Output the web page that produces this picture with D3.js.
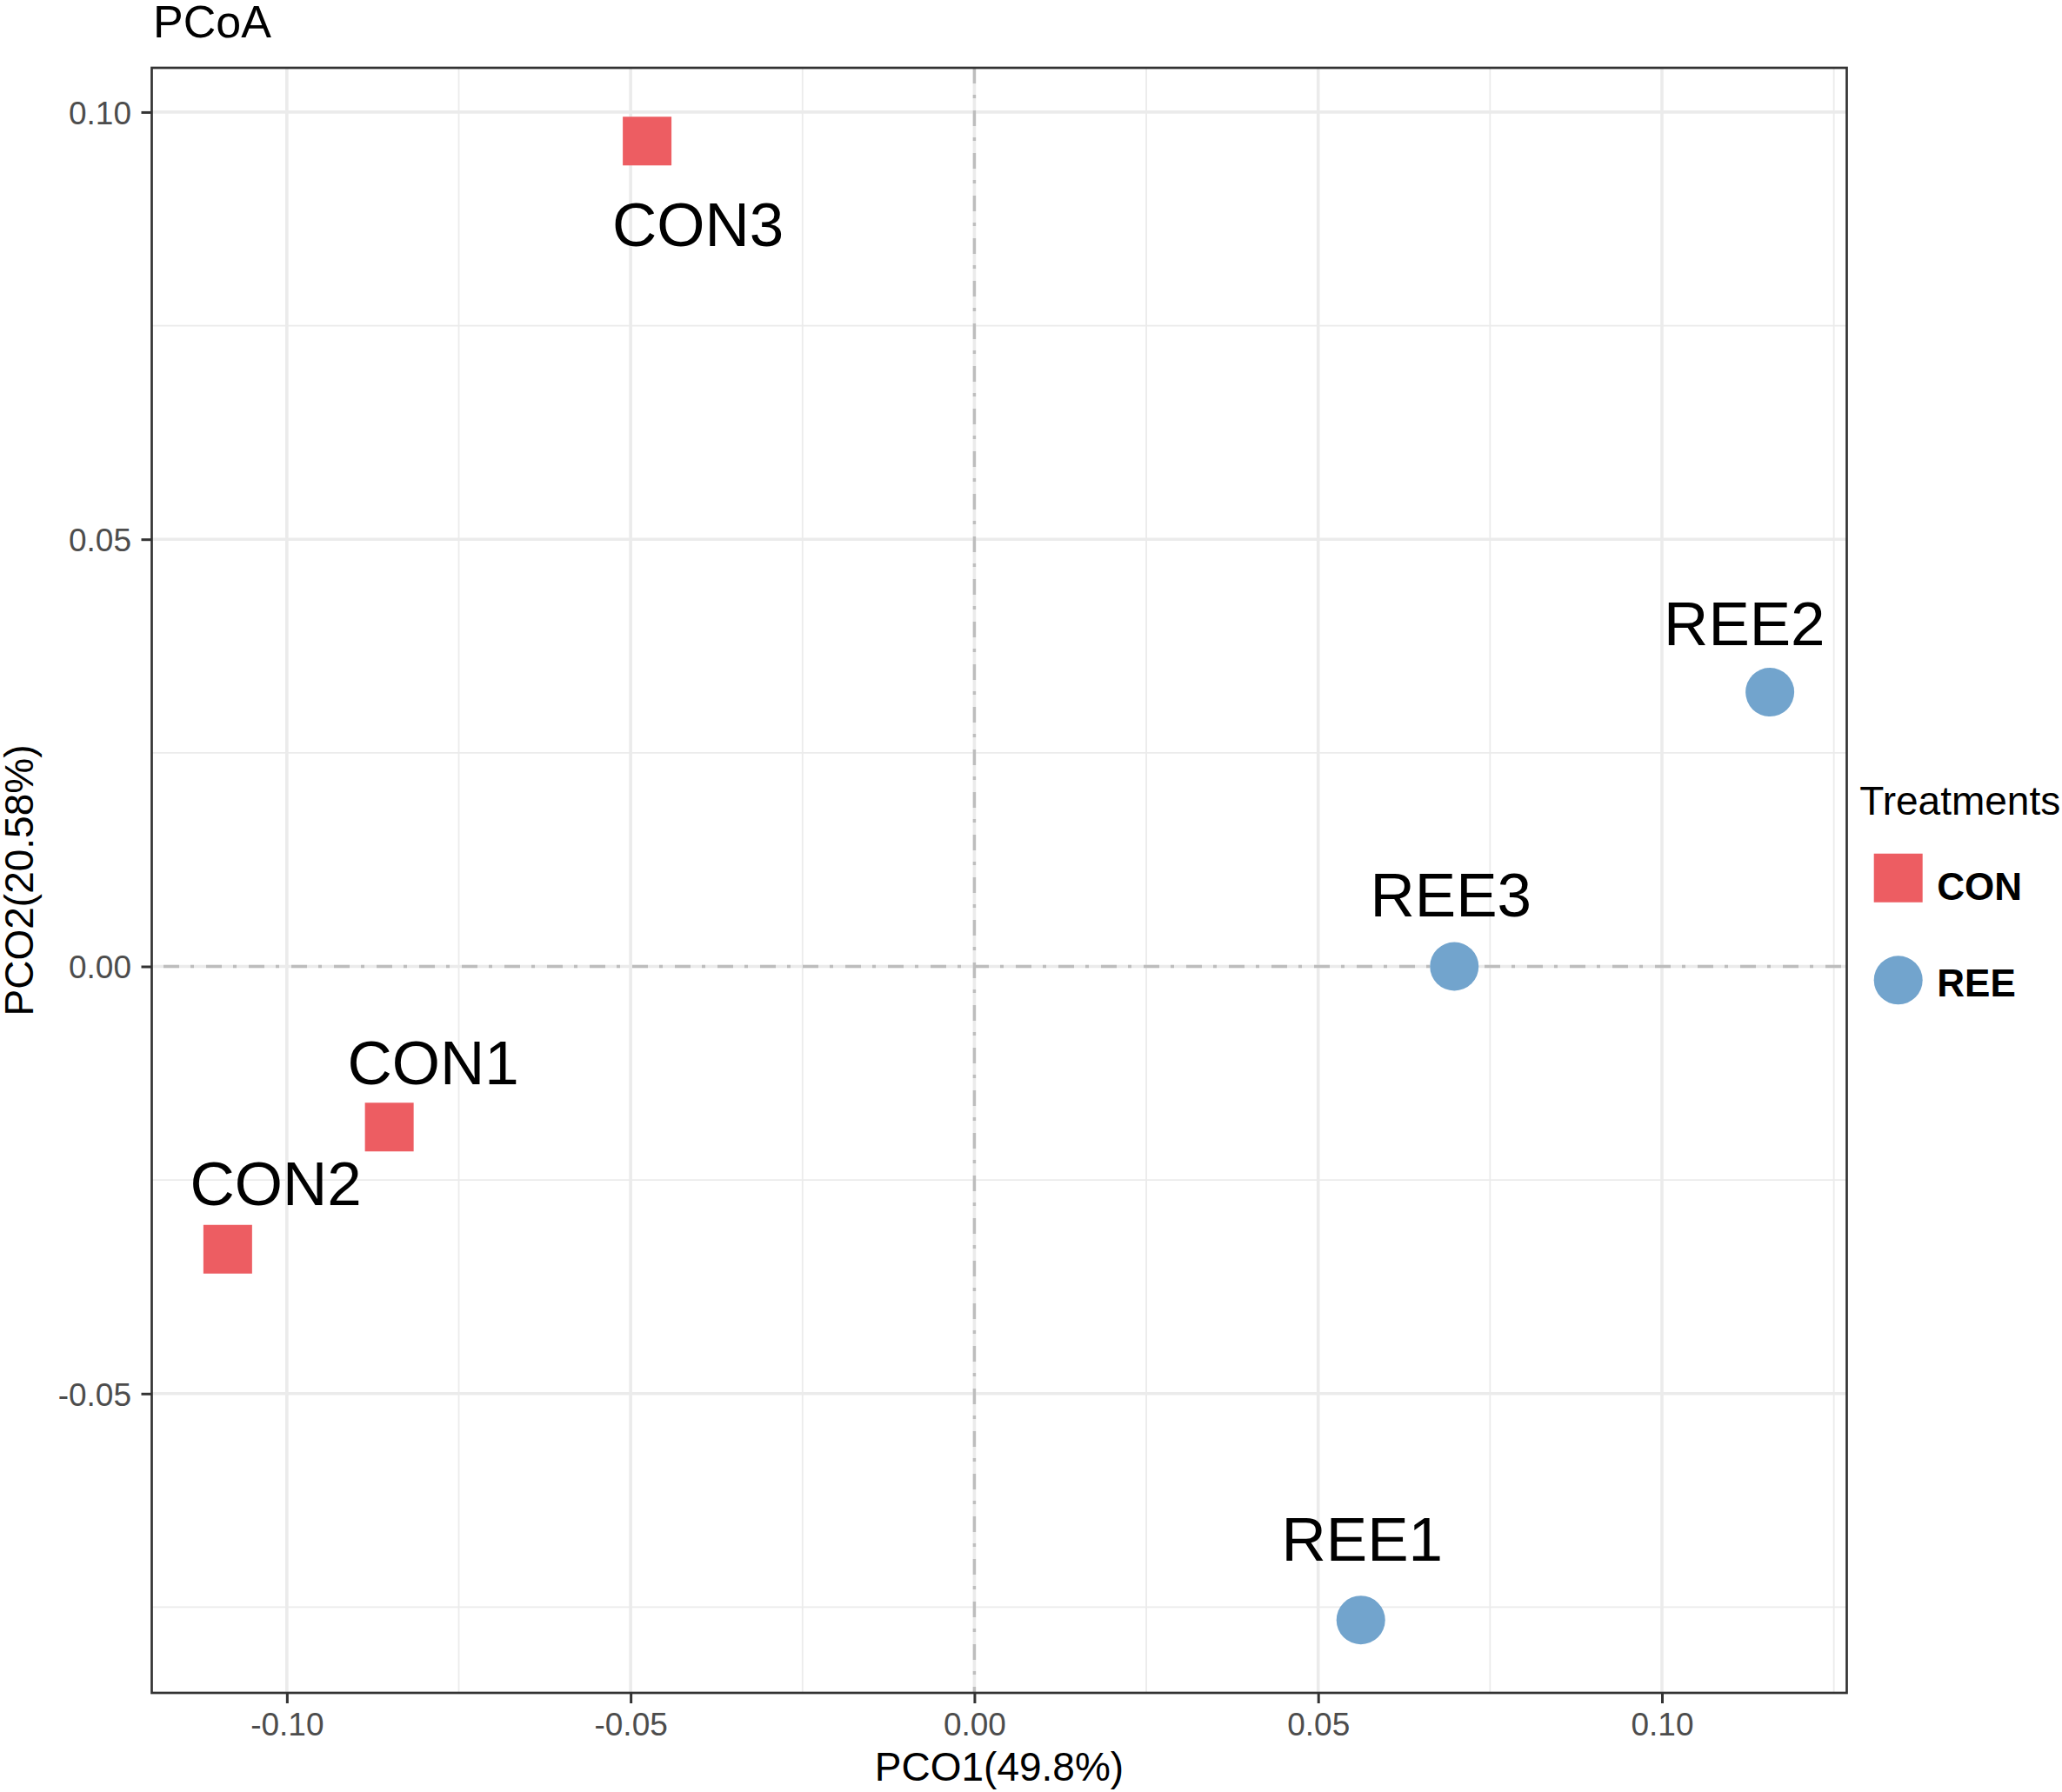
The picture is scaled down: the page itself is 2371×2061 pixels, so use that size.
<!DOCTYPE html>
<html>
<head>
<meta charset="utf-8">
<script src="https://cdn.jsdelivr.net/npm/d3@7"></script>
<style>
  body { margin: 0; background: #fff; }
  text { font-family: "Liberation Sans", Arial, sans-serif; }
</style>
</head>
<body>
<div id="chart"></div>
<script>
/* données */
const samples = ["CON1", "CON2", "CON3", "REE1", "REE2", "REE3"];
const groups = ["CON", "CON", "CON", "REE", "REE", "REE"];
const pco1 = [-0.0851, -0.1086, -0.0476, 0.0562, 0.1157, 0.0698];
const pco2 = [-0.0188, -0.0331, 0.0966, -0.0765, 0.0321, 0.0];
// position des étiquettes (unités des axes, comme un nudge/repel)
const labelX = [-0.0787, -0.1016, -0.0402, 0.0564, 0.1120, 0.0693];
const labelY = [-0.0112, -0.0253, 0.0869, -0.0670, 0.0402, 0.0084];

const legendGroups = ["CON", "REE"];
const xTicks = [-0.10, -0.05, 0.00, 0.05, 0.10];
const yTicks = [-0.05, 0.00, 0.05, 0.10];
const xMinor = [-0.075, -0.025, 0.025, 0.075, 0.125];
const yMinor = [-0.075, -0.025, 0.025, 0.075];

const title = "PCoA";
const xTitle = "PCO1(49.8%)";
const yTitle = "PCO2(20.58%)";
const legendTitle = "Treatments";

/* dimensions */
const width = 2371, height = 2061;
const panel = {left: 174.5, right: 2123.5, top: 78, bottom: 1947};

const colors = {CON: "#ED5D62", REE: "#72A4CD"};
const shapes = {CON: d3.symbolSquare, REE: d3.symbolCircle};
const symSize = {CON: 56 * 56, REE: Math.PI * 28 * 28};
// décalage vertical du texte de légende par rapport au symbole
const keyTextDy = {CON: 25.3, REE: 18.4};

const x = d3.scaleLinear().domain([-0.11965, 0.12688]).range([panel.left, panel.right]);
const y = d3.scaleLinear().domain([-0.08503, 0.10518]).range([panel.bottom, panel.top]);

const fmt = d3.formatLocale({decimal: ".", thousands: ",", grouping: [3], currency: ["", ""], minus: "-"}).format(".2f");

const svg = d3.create("svg")
    .attr("width", width)
    .attr("height", height)
    .attr("viewBox", [0, 0, width, height]);

svg.append("rect").attr("width", width).attr("height", height).attr("fill", "#fff");

// grille mineure puis majeure
const grid = svg.append("g").attr("stroke", "#EBEBEB").attr("fill", "none");
grid.selectAll(".vminor").data(xMinor.filter(d => x(d) < panel.right)).join("line")
    .attr("x1", d => x(d)).attr("x2", d => x(d))
    .attr("y1", panel.top).attr("y2", panel.bottom)
    .attr("stroke-width", 1.8);
grid.selectAll(".hminor").data(yMinor).join("line")
    .attr("y1", d => y(d)).attr("y2", d => y(d))
    .attr("x1", panel.left).attr("x2", panel.right)
    .attr("stroke-width", 1.8);
grid.selectAll(".vmajor").data(xTicks).join("line")
    .attr("x1", d => x(d)).attr("x2", d => x(d))
    .attr("y1", panel.top).attr("y2", panel.bottom)
    .attr("stroke-width", 3.6);
grid.selectAll(".hmajor").data(yTicks).join("line")
    .attr("y1", d => y(d)).attr("y2", d => y(d))
    .attr("x1", panel.left).attr("x2", panel.right)
    .attr("stroke-width", 3.6);

// lignes zéro en pointillé (dotdash)
const zero = svg.append("g")
    .attr("stroke", "#BDBDBD")
    .attr("stroke-width", 3.4)
    .attr("stroke-dasharray", "18,13,4,14");
zero.append("line")
    .attr("x1", panel.left).attr("x2", panel.right)
    .attr("y1", y(0)).attr("y2", y(0))
    .attr("stroke-dashoffset", 35.5);
zero.append("line")
    .attr("x1", x(0)).attr("x2", x(0))
    .attr("y1", panel.top).attr("y2", panel.bottom);

// points
const idx = d3.range(samples.length);
svg.append("g").selectAll("path").data(idx).join("path")
    .attr("transform", i => `translate(${x(pco1[i])},${y(pco2[i])})`)
    .attr("d", i => d3.symbol(shapes[groups[i]], symSize[groups[i]])())
    .attr("fill", i => colors[groups[i]]);

// étiquettes
svg.append("g").selectAll("text").data(idx).join("text")
    .attr("x", i => x(labelX[i]))
    .attr("y", i => y(labelY[i]))
    .attr("dy", "0.358em")
    .attr("text-anchor", "middle")
    .attr("font-size", 71)
    .attr("fill", "#000")
    .text(i => samples[i]);

// cadre du panneau
svg.append("rect")
    .attr("x", panel.left).attr("y", panel.top)
    .attr("width", panel.right - panel.left)
    .attr("height", panel.bottom - panel.top)
    .attr("fill", "none")
    .attr("stroke", "#333333")
    .attr("stroke-width", 2.7);

// axes
const xAxis = svg.append("g")
    .attr("transform", `translate(0,${panel.bottom})`)
    .call(d3.axisBottom(x).tickValues(xTicks).tickFormat(fmt).tickSize(12).tickPadding(11));
const yAxis = svg.append("g")
    .attr("transform", `translate(${panel.left},0)`)
    .call(d3.axisLeft(y).tickValues(yTicks).tickFormat(fmt).tickSize(12).tickPadding(11.5));

[xAxis, yAxis].forEach(a => {
  a.select(".domain").remove();
  a.selectAll(".tick line").attr("stroke", "#333333").attr("stroke-width", 3);
  a.selectAll(".tick text")
      .attr("fill", "#4D4D4D")
      .attr("font-size", 37)
      .attr("font-family", "'Liberation Sans', Arial, sans-serif");
});
yAxis.selectAll(".tick text").attr("dy", "0.36em");

// titres
svg.append("text")
    .attr("x", 176).attr("y", 43.3)
    .attr("font-size", 52)
    .text(title);

svg.append("text")
    .attr("x", (panel.left + panel.right) / 2).attr("y", 2048.3)
    .attr("text-anchor", "middle")
    .attr("font-size", 46)
    .text(xTitle);

svg.append("text")
    .attr("transform", `translate(37.5,${(panel.top + panel.bottom) / 2}) rotate(-90)`)
    .attr("text-anchor", "middle")
    .attr("font-size", 46)
    .text(yTitle);

// légende
const legend = svg.append("g").attr("transform", "translate(2138.3,0)");
legend.append("text")
    .attr("x", 0).attr("y", 937.3)
    .attr("font-size", 46)
    .text(legendTitle);

const key = legend.selectAll(".key").data(legendGroups).join("g")
    .attr("transform", (d, i) => `translate(0,${1009.7 + i * 117.6})`);
key.append("path")
    .attr("transform", "translate(44.4,0)")
    .attr("d", d => d3.symbol(shapes[d], symSize[d])())
    .attr("fill", d => colors[d]);
key.append("text")
    .attr("x", 89)
    .attr("y", d => keyTextDy[d])
    .attr("font-size", 44)
    .attr("font-weight", "bold")
    .text(d => d);

d3.select("#chart").node().append(svg.node());
</script>
</body>
</html>
